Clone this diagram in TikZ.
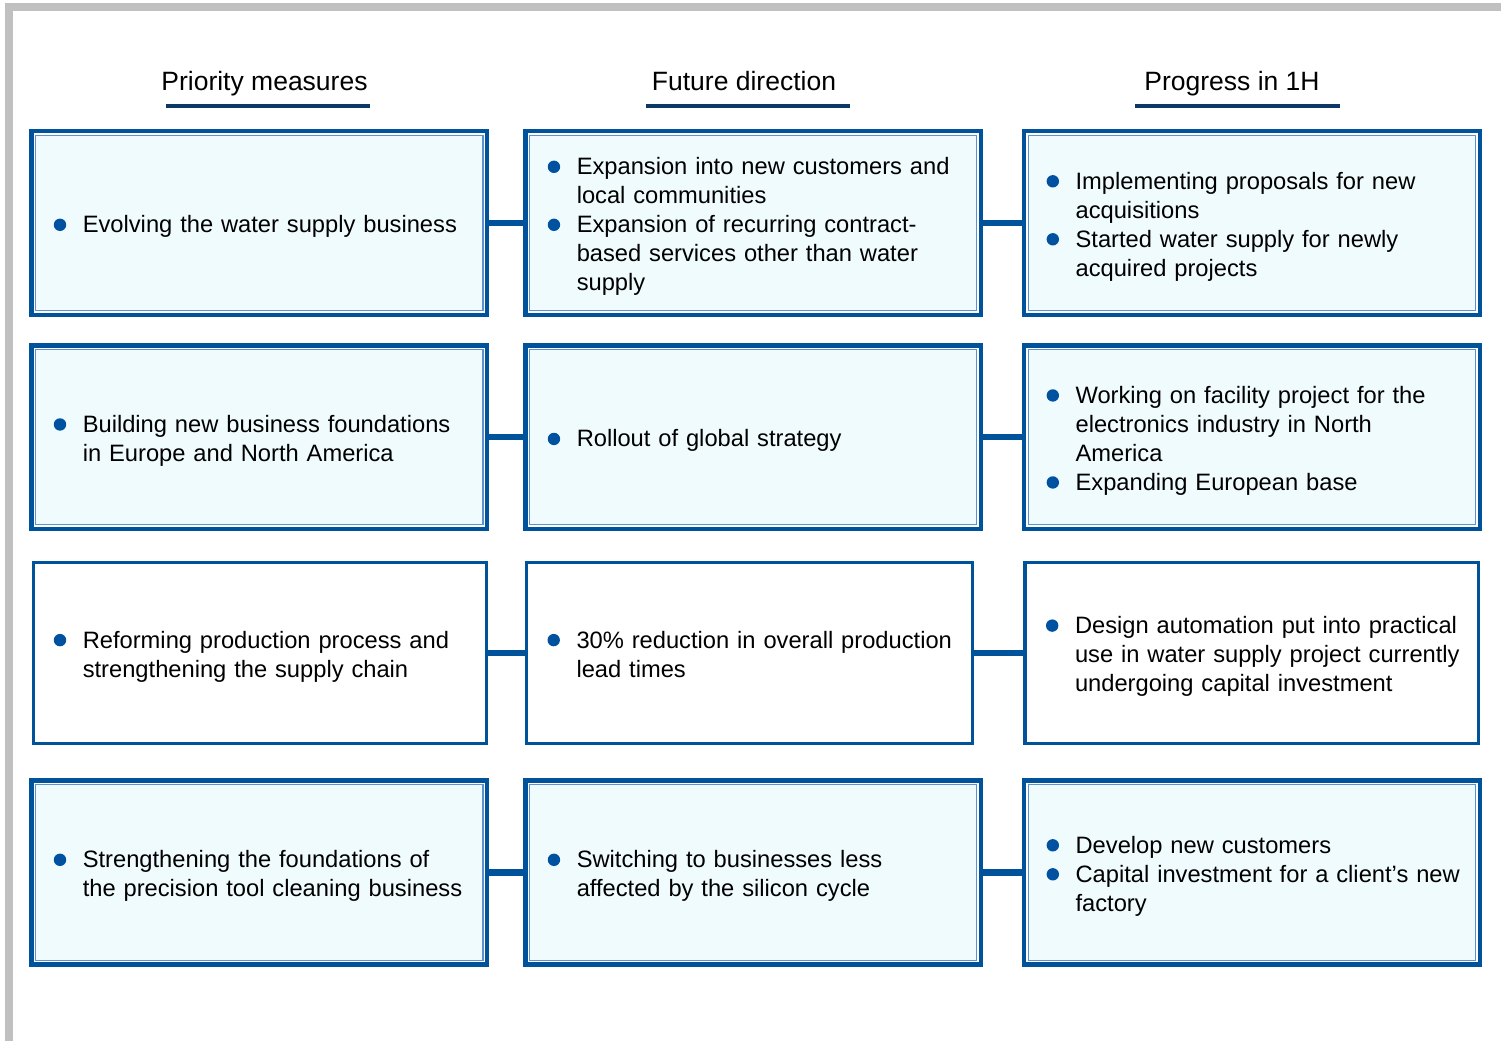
\documentclass[tikz,border=0pt]{standalone}
\usepackage{fontspec}
\setmainfont{Liberation Sans}
\definecolor{boxblue}{RGB}{0,82,155}
\definecolor{thinblue}{RGB}{95,145,205}
\definecolor{paleblue}{RGB}{240,251,253}
\definecolor{dotblue}{RGB}{0,82,160}
\definecolor{navy}{RGB}{12,56,100}
\definecolor{framegray}{RGB}{192,192,192}
% round bullet mark, centred a little above the baseline
\newcommand\blt{\makebox[29pt][l]{\tikz[baseline={(0pt,-8pt)}]\fill[dotblue] (6.2pt,0pt) circle (6.2pt);}}
% bullet list: first column holds the marks, second the lines of text
\newenvironment{blist}{\vspace*{-8pt}\begin{tabular}{@{}l@{}l@{}}}{\end{tabular}}
\begin{document}
\begin{tikzpicture}[x=1pt,y=-1pt,
  boxtext/.style={font=\fontsize{23.7}{29}\selectfont, align=left, inner sep=0pt},
  dbox/.style={boxtext, draw=boxblue, line width=4.5pt, fill=white,
    path picture={\draw[thinblue, line width=1.3pt, fill=paleblue]
      ([shift={(4.2pt,-4.2pt)}]path picture bounding box.north west) rectangle
      ([shift={(-4.2pt,4.2pt)}]path picture bounding box.south east);}},
  sbox/.style={boxtext, draw=boxblue, line width=3.3pt, fill=white},
  conn/.style={draw=boxblue, line width=6.5pt},
  head/.style={font=\fontsize{26.5}{31}\selectfont, anchor=base, inner sep=0pt},
  uline/.style={draw=navy, line width=4pt}]
\useasboundingbox (0,0) rectangle (1501,1041);
% page frame
\fill[framegray] (5,3.3) rectangle (1501,10.7);
\fill[framegray] (5,3.3) rectangle (13.3,1041);

% column headings
\node[head] (h1) at (264.5,90) {Priority measures};
\node[head] (h2) at (744,90) {Future direction};
\node[head] (h3) at (1232,90) {Progress in 1H};
\draw[uline] (166,106) -- (370,106);
\draw[uline] (646,106) -- (850,106);
\draw[uline] (1135,106) -- (1340,106);

% row 1
\node[dbox, minimum width=455.6pt, minimum height=184pt, text width=411pt] (l1) at (259.3,223)
  {\begin{blist}\blt & Evolving the water supply business\end{blist}};
\node[dbox, minimum width=455.5pt, minimum height=184pt, text width=411pt] (m1) at (753.25,223)
  {\begin{blist}\blt & Expansion into new customers and\\ & local communities\\
   \blt & Expansion of recurring contract-\\ & based services other than water\\ & supply\end{blist}};
\node[dbox, minimum width=455.8pt, minimum height=184pt, text width=411pt] (r1) at (1252.1,223)
  {\begin{blist}\blt & Implementing proposals for new\\ & acquisitions\\
   \blt & Started water supply for newly\\ & acquired projects\end{blist}};

% row 2
\node[dbox, minimum width=455.6pt, minimum height=183.3pt, text width=411pt] (l2) at (259.3,437.15)
  {\begin{blist}\blt & Building new business foundations\\ & in Europe and North America\end{blist}};
\node[dbox, minimum width=455.5pt, minimum height=183.3pt, text width=411pt] (m2) at (753.25,437.15)
  {\begin{blist}\blt & Rollout of global strategy\end{blist}};
\node[dbox, minimum width=455.8pt, minimum height=183.3pt, text width=411pt] (r2) at (1252.1,437.15)
  {\begin{blist}\blt & Working on facility project for the\\ & electronics industry in North\\ & America\\
   \blt & Expanding European base\end{blist}};

% row 3
\node[sbox, minimum width=453.2pt, minimum height=181pt, text width=412.6pt] (l3) at (260.1,652.8)
  {\begin{blist}\blt & Reforming production process and\\ & strengthening the supply chain\end{blist}};
\node[sbox, minimum width=446pt, minimum height=181pt, text width=404.4pt] (m3) at (749.7,652.8)
  {\begin{blist}\blt & 30\% reduction in overall production\\ & lead times\end{blist}};
\node[sbox, minimum width=453.7pt, minimum height=181pt, text width=411.7pt] (r3) at (1251.85,652.8)
  {\begin{blist}\blt & Design automation put into practical\\ & use in water supply project currently\\ & undergoing capital investment\end{blist}};

% row 4
\node[dbox, minimum width=455.6pt, minimum height=184pt, text width=411pt] (l4) at (259.3,872.5)
  {\begin{blist}\blt & Strengthening the foundations of\\ & the precision tool cleaning business\end{blist}};
\node[dbox, minimum width=455.5pt, minimum height=184pt, text width=411pt] (m4) at (753.25,872.5)
  {\begin{blist}\blt & Switching to businesses less\\ & affected by the silicon cycle\end{blist}};
\node[dbox, minimum width=455.8pt, minimum height=184pt, text width=411pt] (r4) at (1252.1,872.5)
  {\begin{blist}\blt & Develop new customers\\
   \blt & Capital investment for a client's new\\ & factory\end{blist}};

% links between neighbouring boxes
\foreach \r in {1,2,3,4}{
  \draw[conn] (l\r.east) -- (m\r.west);
  \draw[conn] (m\r.east) -- (r\r.west);
}
\end{tikzpicture}
\end{document}
